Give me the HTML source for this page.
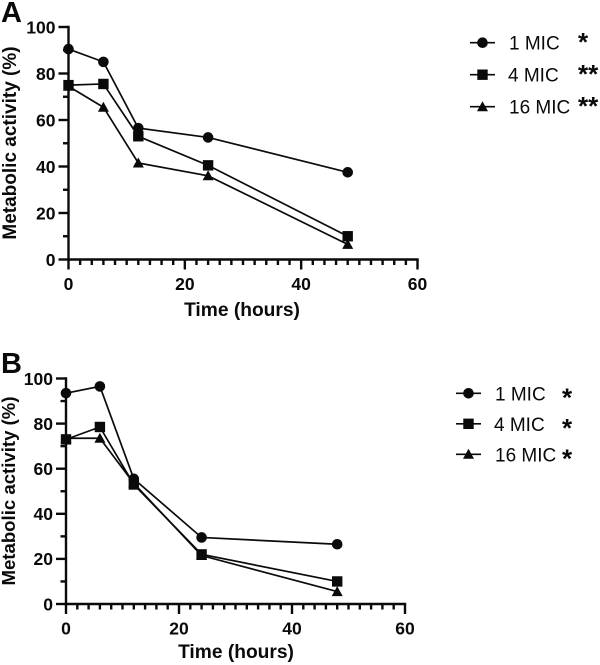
<!DOCTYPE html>
<html>
<head>
<meta charset="utf-8">
<style>
html,body{margin:0;padding:0;background:#fff;}
svg{display:block;font-family:"Liberation Sans",sans-serif;fill:#0a0a0a;}
</style>
</head>
<body>
<svg id="chart" width="600" height="665" viewBox="0 0 600 665" xmlns="http://www.w3.org/2000/svg"></svg>
<script>
const timePoints = [0, 6, 12, 24, 48];
const seriesNames = ["1 MIC", "4 MIC", "16 MIC"];
const markerShapes = ["circle", "square", "triangle"];
const xTickLabels = [0, 20, 40, 60];
const yTickLabels = [0, 20, 40, 60, 80, 100];
const panelA1Mic = [90.5, 85, 56.5, 52.5, 37.5];
const panelA4Mic = [75, 75.5, 53, 40.5, 10];
const panelA16Mic = [74.5, 65.5, 41.5, 36, 6.5];
const panelB1Mic = [93.5, 96.5, 55.5, 29.5, 26.5];
const panelB4Mic = [73, 78.5, 53, 22, 10];
const panelB16Mic = [73.5, 73.5, 53.5, 21.5, 5.5];
const panelAStars = ["*", "**", "**"];
const panelBStars = ["*", "*", "*"];

const svg = document.getElementById('chart');
const NS = 'http://www.w3.org/2000/svg';
function make(parent, tag, props, text) {
  const el = document.createElementNS(NS, tag);
  for (const k in props) el.setAttribute(k, props[k]);
  if (text !== undefined) el.textContent = text;
  parent.appendChild(el);
  return el;
}
function drawMarker(parent, shape, cx, cy) {
  let m;
  if (shape === 'circle') {
    m = make(parent, 'circle', {cx: cx, cy: cy, r: 5.3, fill: '#0a0a0a'});
  } else if (shape === 'square') {
    m = make(parent, 'rect', {x: cx - 5.2, y: cy - 5.2, width: 10.4, height: 10.4, fill: '#0a0a0a'});
  } else {
    m = make(parent, 'polygon', {points: (cx - 5.5) + ',' + (cy + 4.5) + ' ' + (cx + 5.5) + ',' + (cy + 4.5) + ' ' + cx + ',' + (cy - 5.5), fill: '#0a0a0a'});
  }
  
  
}
function drawPanel(cfg) {
  const g = make(svg, 'g', {});
  
  
  const xScale = v => cfg.x0 + (v / 60) * (cfg.x60 - cfg.x0);
  const yScale = v => cfg.y0 + (v / 100) * (cfg.y100 - cfg.y0);

  const letter = make(g, 'text', {x: cfg.letterX, y: cfg.letterY, 'font-size': 29, 'font-weight': 'bold'}, cfg.letter);
  
  

  const lineStyle = {stroke: '#0a0a0a', 'stroke-width': 2.4, fill: 'none'};
  const yAxis = make(g, 'line', Object.assign({x1: cfg.x0, x2: cfg.x0, y1: yScale(100) - 1.2, y2: yScale(0) + 1.2}, lineStyle));
  
  
  const xAxis = make(g, 'line', Object.assign({x1: cfg.x0 - 1.2, x2: xScale(60) + 1.2, y1: cfg.y0, y2: cfg.y0}, lineStyle));
  
  

  for (let v = 0; v <= 60; v += 2) {
    const major = v % 20 === 0;
    const t = make(g, 'line', Object.assign({x1: xScale(v), x2: xScale(v), y1: cfg.y0, y2: cfg.y0 + (major ? 10 : 5.5)}, lineStyle));
    
    
  }
  for (let v = 0; v <= 100; v += 10) {
    const major = v % 20 === 0;
    const t = make(g, 'line', Object.assign({x1: cfg.x0 - (major ? 10 : 5.5), x2: cfg.x0, y1: yScale(v), y2: yScale(v)}, lineStyle));
    
    
  }
  xTickLabels.forEach(v => {
    const t = make(g, 'text', {x: xScale(v), y: cfg.y0 + 30.5, 'text-anchor': 'middle', 'font-size': 17.5, 'font-weight': 'bold'}, v);
    
    
  });
  yTickLabels.forEach(v => {
    const t = make(g, 'text', {x: cfg.x0 - 13, y: yScale(v) + 6.3, 'text-anchor': 'end', 'font-size': 17.5, 'font-weight': 'bold'}, v);
    
    
  });
  const xTitle = make(g, 'text', {x: cfg.xTitleX, y: cfg.xTitleY, 'text-anchor': 'middle', 'font-size': 19.2, 'font-weight': 'bold'}, 'Time (hours)');
  
  
  const yTitle = make(g, 'text', {x: 0, y: 0, transform: 'translate(' + cfg.yTitleX + ',' + cfg.yTitleY + ') rotate(-90)', 'text-anchor': 'middle', 'font-size': cfg.yTitleSize, 'font-weight': 'bold'}, 'Metabolic activity (%)');
  
  

  cfg.series.forEach((vals, i) => {
    const sg = make(g, 'g', {});
    
    
    const pts = vals.map((v, j) => xScale(timePoints[j]) + ',' + yScale(v)).join(' ');
    const line = make(sg, 'polyline', {points: pts, fill: 'none', stroke: '#0a0a0a', 'stroke-width': 1.7});
    
    
    vals.forEach((v, j) => drawMarker(sg, markerShapes[i], xScale(timePoints[j]), yScale(v)));
  });

  seriesNames.forEach((name, i) => {
    const ly = cfg.legendY + i * cfg.legendStep;
    const lg = make(g, 'g', {});
    
    
    const ll = make(lg, 'line', {x1: cfg.legendX, x2: cfg.legendX + 25, y1: ly, y2: ly, stroke: '#0a0a0a', 'stroke-width': 1.7});
    
    
    drawMarker(lg, markerShapes[i], cfg.legendX + 12.5, ly);
    const lt = make(lg, 'text', {x: cfg.legendX + (i === 1 ? 38 : 39), y: ly + 7, 'font-size': 19}, name);
    
    
    const st = make(lg, 'text', {x: cfg.starX, y: ly + cfg.starDy, 'font-size': 26, 'font-weight': 'bold'}, cfg.stars[i]);
    
    
  });
}
drawPanel({letter: 'A', letterX: 1, letterY: 22, x0: 68.5, x60: 417.5, y0: 259.5, y100: 27,
  xTitleX: 242, xTitleY: 316, yTitleX: 16, yTitleY: 143, yTitleSize: 19,
  series: [panelA1Mic, panelA4Mic, panelA16Mic], stars: panelAStars,
  legendX: 470, legendY: 42.7, legendStep: 32, starX: 578, starDy: 8.5});
drawPanel({letter: 'B', letterX: 1, letterY: 373, x0: 66, x60: 405, y0: 604, y100: 378.5,
  xTitleX: 236, xTitleY: 658, yTitleX: 15, yTitleY: 491, yTitleSize: 18.6,
  series: [panelB1Mic, panelB4Mic, panelB16Mic], stars: panelBStars,
  legendX: 456, legendY: 393.3, legendStep: 30.5, starX: 562, starDy: 13});
</script>
</body>
</html>
